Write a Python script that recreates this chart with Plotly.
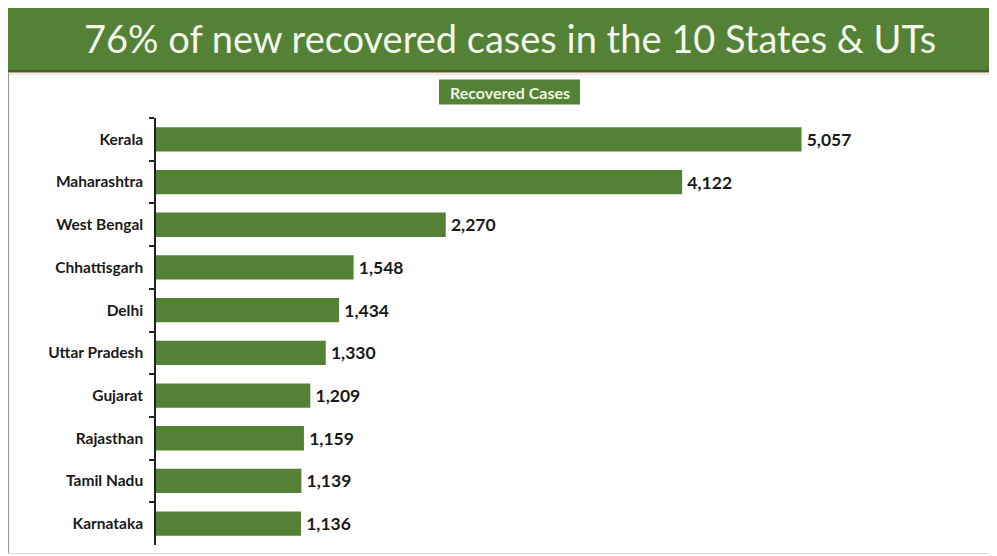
import plotly.graph_objects as go

states = ["Kerala", "Maharashtra", "West Bengal", "Chhattisgarh", "Delhi",
          "Uttar Pradesh", "Gujarat", "Rajasthan", "Tamil Nadu", "Karnataka"]
recovered = [5057, 4122, 2270, 1548, 1434, 1330, 1209, 1159, 1139, 1136]
title_text = "76% of new recovered cases in the 10 States & UTs"
series_name = "Recovered Cases"

# page body has an 8px margin; work in screen coordinates and shift
OFF = 8
W, H = 997 - OFF, 556 - OFF
AX_L, AX_R, AX_T, AX_B = 156, 950, 117.5, 545.5  # screen px
L = AX_L - OFF
R = (997 - AX_R)
T = AX_T - OFF
B = H - (AX_B - OFF)
PW = W - L - R
PH = H - T - B

def px(x):
    return (x - OFF - L) / PW

def py(y):
    return (H - B - (y - OFF)) / PH

GREEN = "#538135"

fig = go.Figure(go.Bar(
    x=recovered, y=states, orientation="h",
    marker=dict(color=GREEN, line=dict(width=0)),
    width=0.57,
    text=recovered, texttemplate="\u2009%{x:,}", textposition="outside",
    textfont=dict(family="Lato", size=17.5, color="#1a1a1a", weight="bold"),
    cliponaxis=False, name=series_name, showlegend=False,
))

shapes = [
    # banner
    dict(type="rect", xref="paper", yref="paper", x0=px(8), x1=px(1000), y0=py(70), y1=py(4),
         fillcolor=GREEN, line=dict(width=0), layer="below"),
    dict(type="rect", xref="paper", yref="paper", x0=px(8), x1=px(1000), y0=py(72), y1=py(69.5),
         fillcolor="#4a5a2a", line=dict(width=0), layer="below"),
    dict(type="line", xref="paper", yref="paper", x0=px(8), x1=px(1000), y0=py(73.5), y1=py(73.5),
         line=dict(color="#f3d9c8", width=1.2), layer="below"),
    # frame
    dict(type="line", xref="paper", yref="paper", x0=px(8.5), x1=px(8.5), y0=py(72), y1=py(554),
         line=dict(color="#9a9a9a", width=1.2), layer="below"),
    dict(type="line", xref="paper", yref="paper", x0=px(8), x1=px(1000), y0=py(554), y1=py(554),
         line=dict(color="#d8d8d8", width=1), layer="below"),
    # legend box
    dict(type="rect", xref="paper", yref="paper", x0=px(439), x1=px(580), y0=py(104), y1=py(79),
         fillcolor=GREEN, line=dict(width=0), layer="below"),
]

annotations = [
    dict(text=title_text, xref="paper", yref="paper", x=px(510), y=py(37),
         xanchor="center", yanchor="middle", showarrow=False,
         font=dict(family="Lato", size=38, color="#f4f7ec")),
    dict(text=series_name, xref="paper", yref="paper", x=px(509.5), y=py(91.5),
         xanchor="center", yanchor="middle", showarrow=False,
         font=dict(family="Lato", size=16, color="#eef5e0", weight="bold")),
]

fig.update_layout(
    width=W, height=H,
    margin=dict(l=L, r=R, t=T, b=B, pad=0),
    paper_bgcolor="white", plot_bgcolor="white",
    shapes=shapes, annotations=annotations,
    xaxis=dict(range=[0, PW / (645.5 / 5057)], visible=False, showgrid=False, zeroline=False),
    yaxis=dict(
        autorange="reversed", type="category",
        showline=True, linecolor="#222222", linewidth=1.5,
        ticks="outside", tickson="boundaries", ticklen=5, tickcolor="#222222", tickwidth=1.5,
        ticklabelstandoff=8,
        tickfont=dict(family="Lato", size=15.5, color="#1a1a1a", weight="bold"),
        showgrid=False,
    ),
    font=dict(family="Lato"),
)

fig.write_html("out.html")
